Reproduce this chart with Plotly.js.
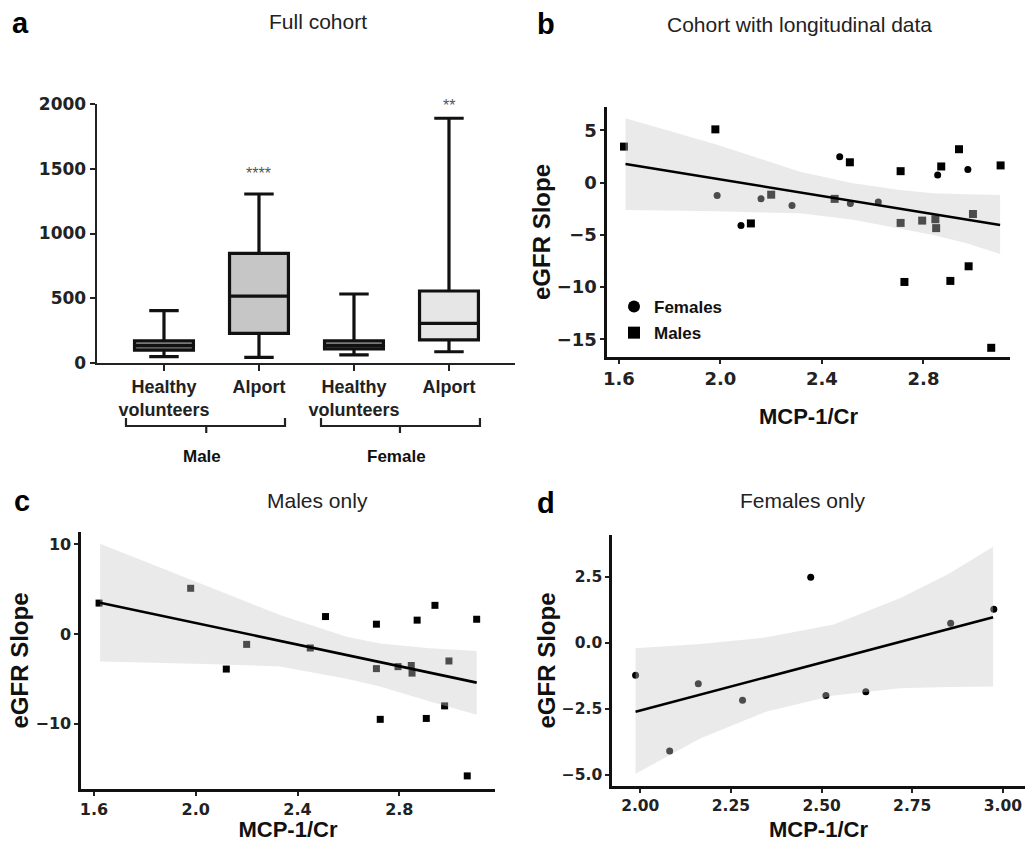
<!DOCTYPE html>
<html><head><meta charset="utf-8">
<script src="https://cdn.plot.ly/plotly-3.0.1.min.js"></script>
<style>html,body{margin:0;padding:0;background:#fff}#chart{width:1025px;height:842px}</style>
</head><body><div id="chart"></div>
<script>
// ---------- Panel a: MCP-1/Cr by group (box summaries) ----------
const boxLabels = ['Healthy<br>volunteers', 'Alport', 'Healthy<br>volunteers', 'Alport'];
const boxPos = [0, 1, 2, 3];
const boxLow = [49, 44, 62, 87];
const boxQ1 = [100, 229, 108, 178];
const boxMedian = [134, 517, 134, 306];
const boxQ3 = [172, 847, 172, 556];
const boxHigh = [404, 1305, 533, 1890];
const sexLabels = ['Male', 'Female'];
const sigLabels = ['****', '**'];

// ---------- Panels b-d: eGFR slope vs MCP-1/Cr ----------
const maleX = [1.62, 1.98, 2.12, 2.20, 2.45, 2.51, 2.71, 2.71, 2.725, 2.795, 2.847, 2.85, 2.87, 2.906, 2.94, 2.978, 2.995, 3.067, 3.104];
const maleY = [3.45, 5.1, -3.9, -1.15, -1.55, 1.95, 1.1, -3.85, -9.5, -3.63, -3.5, -4.35, 1.55, -9.4, 3.2, -8.0, -3.0, -15.8, 1.65];
const femaleX = [1.987, 2.081, 2.16, 2.282, 2.47, 2.512, 2.622, 2.856, 2.975];
const femaleY = [-1.23, -4.1, -1.55, -2.18, 2.47, -2.0, -1.86, 0.73, 1.26];

// fitted lines and confidence bands
const allFitX = [1.626, 3.102];
const allFitY = [1.79, -4.05];
const allBandX = [1.626, 1.984, 2.313, 2.523, 2.707, 2.839, 2.97, 3.102];
const allBandUp = [6.16, 3.65, 1.05, -0.06, -0.70, -1.02, -1.12, -1.18];
const allBandLo = [-2.61, -2.74, -2.93, -3.54, -4.37, -5.0, -5.8, -6.82];

const maleFitX = [1.624, 3.104];
const maleFitY = [3.5, -5.41];
const maleBandX = [1.624, 2.0, 2.331, 2.593, 2.724, 2.92, 3.104];
const maleBandUp = [10.07, 5.84, 2.11, -0.3, -1.04, -1.59, -1.89];
const maleBandLo = [-3.07, -3.3, -3.6, -4.99, -5.85, -7.52, -9.0];

const femFitX = [1.987, 2.973];
const femFitY = [-2.61, 0.96];
const femBandX = [1.987, 2.165, 2.349, 2.533, 2.716, 2.85, 2.973];
const femBandUp = [-0.21, -0.05, 0.2, 0.69, 1.68, 2.6, 3.63];
const femBandLo = [-4.96, -3.62, -2.6, -2.0, -1.72, -1.68, -1.66];

// ---------- styles ----------
const boxFills = ['#787878', '#c6c6c6', '#787878', '#e6e6e6'];
const BAND = 'rgba(200,200,200,0.38)';
const TICKF = 'DejaVu Sans, Verdana, sans-serif';
const ARIAL = 'Liberation Sans, Arial, Helvetica, sans-serif';
const W = 1025, H = 842;
const px = p => p / W;
const py = p => 1 - p / H;

const traces = [];
boxPos.forEach((p, i) => {
  traces.push({
    type: 'box', xaxis: 'x', yaxis: 'y', x: [p],
    q1: [boxQ1[i]], median: [boxMedian[i]], q3: [boxQ3[i]],
    lowerfence: [boxLow[i]], upperfence: [boxHigh[i]],
    width: 0.62, whiskerwidth: 0.5, fillcolor: boxFills[i],
    line: {color: '#111', width: 3.2}, boxpoints: false,
    showlegend: false, hoverinfo: 'skip'
  });
});

function band(xs, up, lo, xa, ya) {
  return {
    type: 'scatter', mode: 'lines', xaxis: xa, yaxis: ya,
    x: xs.concat(xs.slice().reverse()),
    y: up.concat(lo.slice().reverse()),
    fill: 'toself', fillcolor: BAND, line: {width: 0},
    showlegend: false, hoverinfo: 'skip'
  };
}
function fit(xs, ys, xa, ya) {
  return {type: 'scatter', mode: 'lines', xaxis: xa, yaxis: ya, x: xs, y: ys,
    line: {color: '#000', width: 2.6}, showlegend: false, hoverinfo: 'skip'};
}
function pts(xs, ys, sym, size, xa, ya, name, legend) {
  return {type: 'scatter', mode: 'markers', xaxis: xa, yaxis: ya, x: xs, y: ys, name: name,
    marker: {symbol: sym, size: size, color: '#000', line: {width: 0}},
    showlegend: legend, legendgroup: name, hoverinfo: 'skip'};
}

// panel b
traces.push(pts(femaleX, femaleY, 'circle', 7, 'x2', 'y2', 'Females', true));
traces.push(pts(maleX, maleY, 'square', 8, 'x2', 'y2', 'Males', true));
traces.push(band(allBandX, allBandUp, allBandLo, 'x2', 'y2'));
traces.push(fit(allFitX, allFitY, 'x2', 'y2'));
// panel c
traces.push(pts(maleX, maleY, 'square', 7, 'x3', 'y3', 'Males only', false));
traces.push(band(maleBandX, maleBandUp, maleBandLo, 'x3', 'y3'));
traces.push(fit(maleFitX, maleFitY, 'x3', 'y3'));
// panel d
traces.push(pts(femaleX, femaleY, 'circle', 7, 'x4', 'y4', 'Females only', false));
traces.push(band(femBandX, femBandUp, femBandLo, 'x4', 'y4'));
traces.push(fit(femFitX, femFitY, 'x4', 'y4'));

function axisBase(extra) {
  return Object.assign({
    showline: true, linecolor: '#111', linewidth: 2.6, showgrid: false, zeroline: false,
    ticks: 'outside', ticklen: 4, tickwidth: 2, tickcolor: '#222', fixedrange: true
  }, extra);
}
const tickFont = s => ({family: TICKF, size: s, weight: 'bold', color: '#222'});
const titleFont = s => ({family: ARIAL, size: s, weight: 'bold', color: '#111'});

const layout = {
  width: W, height: H, margin: {l: 0, r: 0, t: 0, b: 0},
  paper_bgcolor: '#fff', plot_bgcolor: 'rgba(0,0,0,0)', showlegend: true,
  legend: {x: px(614), xanchor: 'left', y: py(289), yanchor: 'top',
    font: {family: ARIAL, size: 17, weight: 'bold', color: '#111'},
    bgcolor: 'rgba(0,0,0,0)', itemsizing: 'constant', tracegroupgap: 1},
  xaxis: axisBase({domain: [px(97), px(515)], range: [-0.705, 3.695], anchor: 'y',
    tickvals: boxPos, ticktext: boxLabels, ticklen: 6, linecolor: '#222', linewidth: 2.4,
    tickfont: {family: ARIAL, size: 18, weight: 'bold', color: '#222'}}),
  yaxis: axisBase({domain: [py(363), py(104)], range: [0, 2000], anchor: 'x',
    tickvals: [0, 500, 1000, 1500, 2000], ticklen: 5, linecolor: '#222', linewidth: 2.4,
    tickfont: tickFont(17)}),
  xaxis2: axisBase({domain: [px(607), px(1010)], range: [1.553, 3.141], anchor: 'y2',
    tickvals: [1.6, 2.0, 2.4, 2.8], tickformat: '.1f', tickfont: tickFont(18),
    title: {text: 'MCP-1/Cr', font: titleFont(22), standoff: 21}}),
  yaxis2: axisBase({domain: [py(357), py(107)], range: [-16.68, 7.24], anchor: 'x2',
    tickvals: [-15, -10, -5, 0, 5], tickfont: tickFont(18),
    title: {text: 'eGFR Slope', font: titleFont(24), standoff: 0}}),
  xaxis3: axisBase({domain: [px(81), px(495)], range: [1.549, 3.176], anchor: 'y3',
    tickvals: [1.6, 2.0, 2.4, 2.8], tickformat: '.1f', tickfont: tickFont(16),
    title: {text: 'MCP-1/Cr', font: titleFont(22), standoff: 5}}),
  yaxis3: axisBase({domain: [py(789), py(532)], range: [-17.26, 11.37], anchor: 'x3',
    tickvals: [-10, 0, 10], tickfont: tickFont(16),
    title: {text: 'eGFR Slope', font: titleFont(24), standoff: 0}}),
  xaxis4: axisBase({domain: [px(612), 1], range: [1.922, 3.061], anchor: 'y4',
    tickvals: [2.0, 2.25, 2.5, 2.75, 3.0], tickformat: '.2f', tickfont: tickFont(15.5),
    title: {text: 'MCP-1/Cr', font: titleFont(22), standoff: 9}}),
  yaxis4: axisBase({domain: [py(786), py(535)], range: [-5.42, 4.07], anchor: 'x4',
    tickvals: [-5, -2.5, 0, 2.5], tickformat: '.1f', tickfont: tickFont(15.5),
    title: {text: 'eGFR Slope', font: titleFont(24), standoff: 0}}),
  annotations: [],
  shapes: []
};

const A = layout.annotations;
const letterFont = {family: ARIAL, size: 29, weight: 'bold', color: '#000'};
const panelTitleFont = {family: ARIAL, size: 21, color: '#222'};
[['a', 20.5, 23], ['b', 546, 24], ['c', 22, 501], ['d', 546, 503]].forEach(([t, x, y]) =>
  A.push({text: t, xref: 'paper', yref: 'paper', x: px(x), y: py(y), showarrow: false,
    xanchor: 'center', yanchor: 'middle', font: letterFont}));
[['Full cohort', 318, 22], ['Cohort with longitudinal data', 799, 25],
 ['Males only', 317, 500], ['Females only', 802, 500]].forEach(([t, x, y]) =>
  A.push({text: t, xref: 'paper', yref: 'paper', x: px(x), y: py(y), showarrow: false,
    xanchor: 'center', yanchor: 'middle', font: panelTitleFont}));

// significance stars above the Alport boxes
[[1, 1460], [3, 1985]].forEach(([b, yv], i) =>
  A.push({text: sigLabels[i], xref: 'x', yref: 'y', x: boxPos[b], y: yv, showarrow: false,
    xanchor: 'center', yanchor: 'middle', font: {family: ARIAL, size: 16, color: '#555'}}));

// sex group braces under panel a
const braces = [[-0.40, 0.445, 1.274], [1.653, 2.484, 3.326]];
braces.forEach(([x0, xc, x1], i) => {
  const yE = py(418), yL = py(426), yT = py(433);
  layout.shapes.push({type: 'path', xref: 'x', yref: 'paper',
    path: `M ${x0},${yE} L ${x0},${yL} L ${x1},${yL} L ${x1},${yE} M ${xc},${yL} L ${xc},${yT}`,
    line: {color: '#222', width: 2.2}});
  A.push({text: sexLabels[i], xref: 'x', yref: 'paper', x: xc - 0.04, y: py(456), showarrow: false,
    xanchor: 'center', yanchor: 'middle', font: {family: ARIAL, size: 17, weight: 'bold', color: '#111'}});
});

Plotly.newPlot('chart', traces, layout, {staticPlot: true, displayModeBar: false});
</script>
</body></html>
